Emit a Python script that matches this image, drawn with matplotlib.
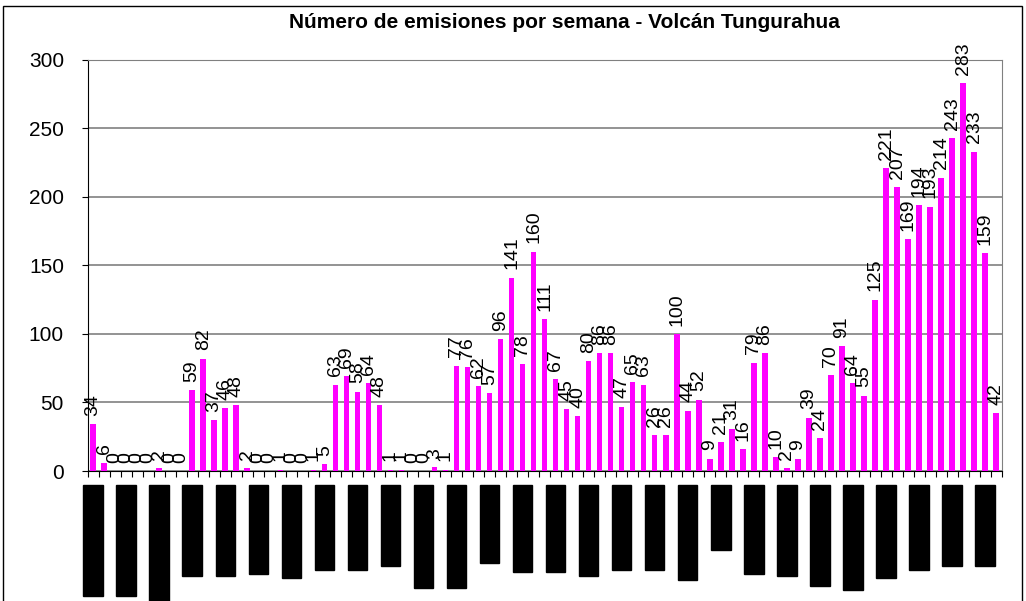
import numpy as np
import matplotlib
matplotlib.use('Agg')
import matplotlib.pyplot as plt
from matplotlib.patches import Rectangle
from matplotlib.transforms import blended_transform_factory

# Emisiones por semana
emisiones = [34, 6, 0, 0, 0, 0, 2, 0, 0, 59,
             82, 37, 46, 48, 2, 0, 0, 1, 0, 0,
             1, 5, 63, 69, 58, 64, 48, 1, 1, 0,
             0, 3, 1, 77, 76, 62, 57, 96, 141, 78,
             160, 111, 67, 45, 40, 80, 86, 86, 47, 65,
             63, 26, 26, 100, 44, 52, 9, 21, 31, 16,
             79, 86, 10, 2, 9, 39, 24, 70, 91, 64,
             55, 125, 221, 207, 169, 194, 193, 214, 243, 283,
             233, 159, 42]
semanas = np.arange(len(emisiones))

# etiquetas del eje x tapadas (cada 3 semanas): largo de cada bloque negro en px
bloques_px = [125, 125, 131, 105, 105, 103, 107, 99, 99, 95,
              117, 117, 92, 101, 101, 105, 99, 99, 109, 79,
              103, 105, 115, 119, 107, 99, 95, 95]

plt.rcParams['font.family'] = ['Liberation Sans', 'DejaVu Sans']

fig = plt.figure(figsize=(10.26, 6.01), dpi=100)
ax = fig.add_axes([0.0853, 0.2163, 0.891, 0.6839])

ax.bar(semanas, emisiones, width=0.5, color='#FF00FF', zorder=3)
for x, v in zip(semanas, emisiones):
    ax.annotate(str(v), (x, v), xytext=(0, 6), textcoords='offset points',
                rotation=90, ha='center', va='bottom', fontsize=14)

ax.set_xlim(-0.5, len(emisiones) - 0.5)
ax.set_ylim(0, 300)
ax.set_yticks(range(0, 301, 50))
ax.yaxis.grid(True, color='#808080', linewidth=1.2)
ax.set_axisbelow(True)

ax.set_xticks(np.arange(-0.5, len(emisiones), 1))
ax.tick_params(axis='x', direction='out', length=4, labelbottom=False)
ax.tick_params(axis='y', direction='out', length=4, labelsize=15, pad=13)

ax.spines['top'].set_color('#808080')
ax.spines['right'].set_color('#808080')
ax.spines['left'].set_color('black')
ax.spines['bottom'].set_color('black')

# bloques negros bajo el eje
trans = blended_transform_factory(ax.transData, ax.transAxes)
alto_ax = ax.get_position().height * 601
for k, largo in enumerate(bloques_px):
    xc = semanas[k * 3]
    y0 = -14 / alto_ax
    ax.add_patch(Rectangle((xc - 0.88, y0 - (largo - 14) / alto_ax), 1.76,
                           (largo - 14) / alto_ax, transform=trans,
                           color='black', clip_on=False))

fig.text(0.55, 0.963, "Número de emisiones por semana - Volcán Tungurahua",
         ha='center', va='center', fontsize=15, fontweight='bold')

fig.add_artist(Rectangle((3 / 1026, -0.01), 1019 / 1026, 1.01 - 6 / 601,
                         transform=fig.transFigure, fill=False,
                         edgecolor='black', linewidth=1))

fig.savefig('out.png', dpi=100)
